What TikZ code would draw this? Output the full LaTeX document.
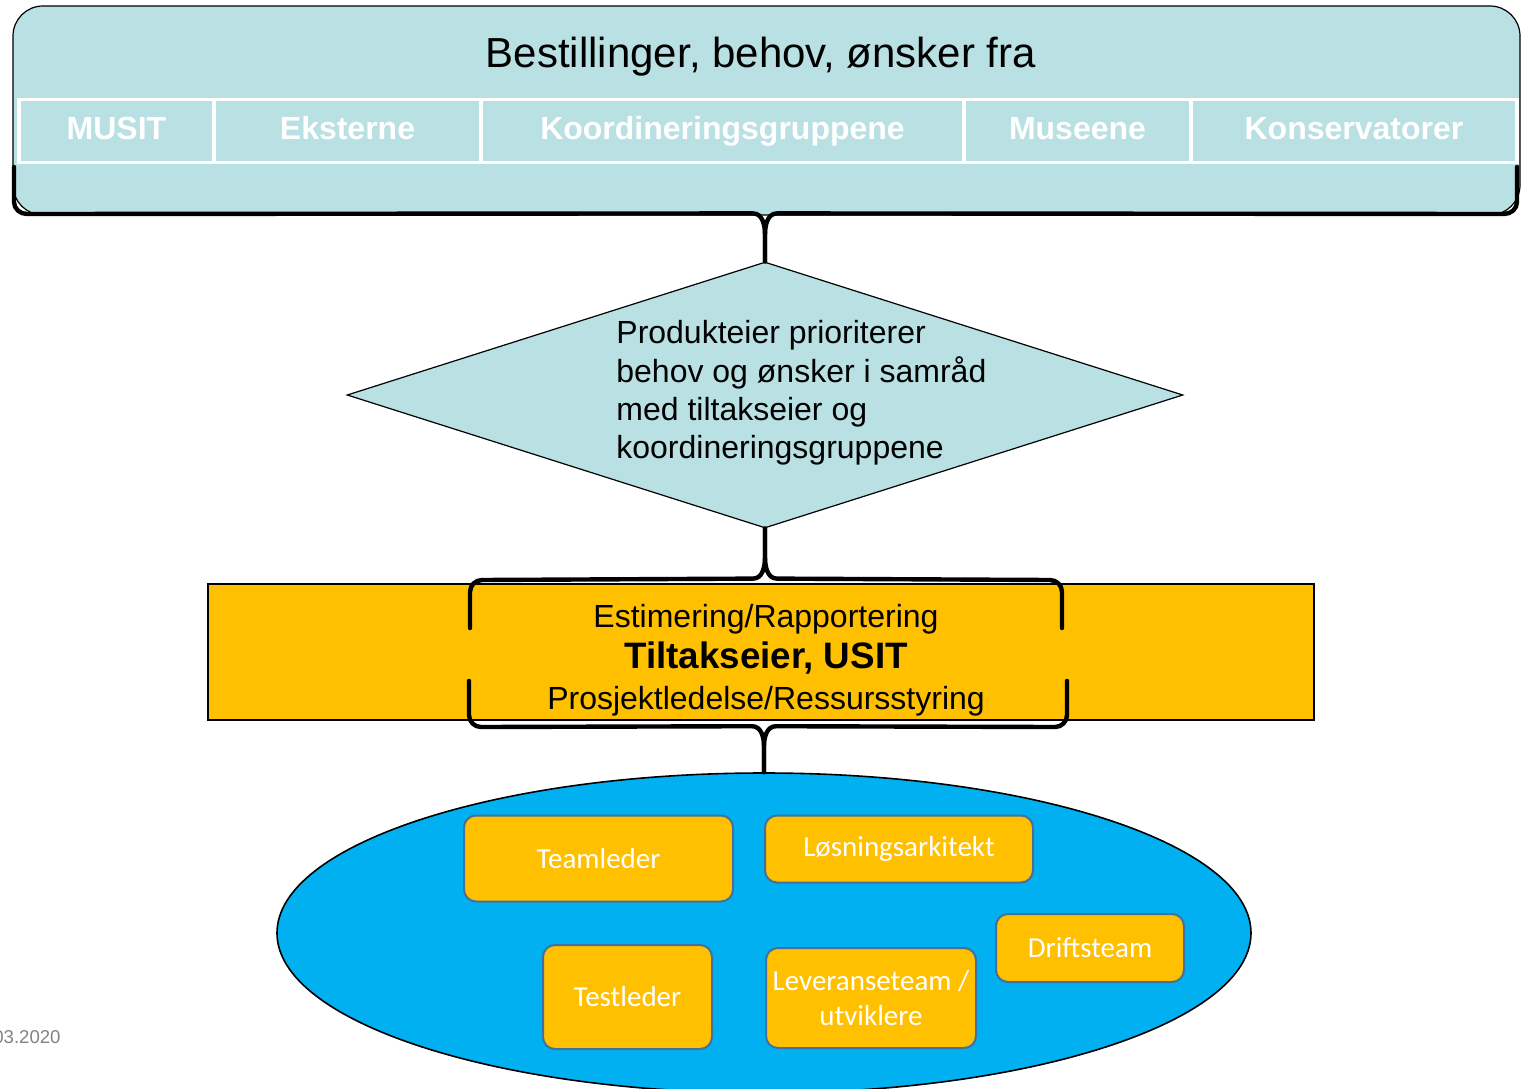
\documentclass[tikz,border=0pt]{standalone}
\usepackage{fontspec}
\setmainfont{Liberation Sans}
\newfontfamily\teamfont{Carlito}
\usepackage{xcolor}
\usepackage{tikz}
\usetikzlibrary{shapes,arrows,positioning}
\definecolor{paleblue}{RGB}{185,224,227}
\definecolor{amber}{RGB}{255,192,0}
\definecolor{sky}{RGB}{0,176,240}
\definecolor{steel}{RGB}{65,113,156}
\definecolor{footgray}{RGB}{130,130,130}

\begin{document}
\begin{tikzpicture}[x=0.5pt, y=-0.5pt, node distance = 0pt, auto]
	\tikzstyle{panel} = [rectangle, draw, fill=paleblue, line width=0.6pt]
	\tikzstyle{cell} = [rectangle, draw=white, line width=1.6pt, minimum height=31.5pt,
	text height=11.5pt, text depth=3.5pt, inner sep=0pt, outer sep=0pt, text=white,
	font=\fontsize{16}{19}\selectfont\bfseries]
	\tikzstyle{brace} = [draw, line width=2.2pt, line cap=round, line join=round]
	\tikzstyle{role} = [rectangle, draw=steel, line width=1pt, fill=amber, rounded corners=6pt,
	text=white, font=\teamfont\fontsize{14.5}{17.5}\selectfont, align=center, inner sep=0pt]
	\useasboundingbox (0,0) rectangle (1522,1088);
	% Place nodes
	\node [panel, rounded corners=15pt, minimum width=753.5pt, minimum height=104.5pt] (orders) at (766.5,110.5) {};
	\node [font=\fontsize{21}{25}\selectfont] (title) at (761,57) {Bestillinger, behov, ønsker fra};
	\node [cell, minimum width=97.5pt] (musit) at (116.5,131) {MUSIT};
	\node [cell, minimum width=133.5pt, right=of musit] (ext) {Eksterne};
	\node [cell, minimum width=241.5pt, right=of ext] (coord) {Koordineringsgruppene};
	\node [cell, minimum width=113.5pt, right=of coord] (museum) {Museene};
	\node [cell, minimum width=163pt, right=of museum] (conserv) {Konservatorer};
	\node [panel, diamond, minimum width=418pt, minimum height=133pt, inner sep=0pt] (prio) at (765,395) {};
	\node [anchor=west, align=left, inner sep=0pt, font=\fontsize{16}{19.2}\selectfont] (priotext) at (616,393)
	{Produkteier prioriterer\\behov og ønsker i samråd\\med tiltakseier og\\koordineringsgruppene};
	\node [rectangle, draw, fill=amber, line width=0.6pt, minimum width=553pt, minimum height=68pt] (owner) at (761,652) {};
	\node [align=center, inner sep=0pt, font=\fontsize{16}{20.5}\selectfont] (ownertext) at (766,660)
	{Estimering/Rapportering\\{\bfseries\fontsize{18.4}{20.5}\selectfont Tiltakseier, USIT}\\Prosjektledelse/Ressursstyring};
	\node [ellipse, draw, fill=sky, line width=0.8pt, minimum width=487pt, minimum height=160pt] (crew) at (764,933) {};
	\node [role, minimum width=134.5pt, minimum height=43pt] (lead) at (598.5,858.5) {Teamleder};
	\node [role, minimum width=134pt, minimum height=33.5pt] (arch) at (899,849) {\raisebox{-1.5pt}{Løsningsarkitekt}};
	\node [role, minimum width=94pt, minimum height=34pt] (ops) at (1090,948) {Driftsteam};
	\node [role, minimum width=84.5pt, minimum height=52pt] (test) at (627.5,997) {Testleder};
	\node [role, minimum width=105pt, minimum height=50pt] (dev) at (871,998) {Leveranseteam /\\utviklere};
	\node [anchor=east, inner sep=0pt, text=footgray, font=\fontsize{9.3}{11}\selectfont] (date) at (61,1037) {03.2020};
	% Draw edges
	\path [brace] (prio.north) -- ++(0,-26) to[out=90,in=0] ++(-12,-22) -- (27,214) to[out=180,in=-90] (14,202) -- (14,167);
	\path [brace] (prio.north) -- ++(0,-26) to[out=90,in=180] ++(12,-22) -- (1504,214) to[out=0,in=-90] (1517,202) -- (1517,167);
	\path [brace] (prio.south) -- ++(0,28) to[out=-90,in=0] ++(-12,22) -- (482,580) to[out=180,in=90] (470,592) -- (470,628);
	\path [brace] (prio.south) -- ++(0,28) to[out=-90,in=180] ++(12,22) -- (1050,580) to[out=0,in=90] (1062,592) -- (1062,628);
	\path [brace] (crew.north) -- ++(0,-26) to[out=90,in=0] ++(-12,-20) -- (481,727) to[out=180,in=-90] (469,715) -- (469,681);
	\path [brace] (crew.north) -- ++(0,-26) to[out=90,in=180] ++(12,-20) -- (1055,727) to[out=0,in=-90] (1067,715) -- (1067,681);
\end{tikzpicture}
\end{document}
